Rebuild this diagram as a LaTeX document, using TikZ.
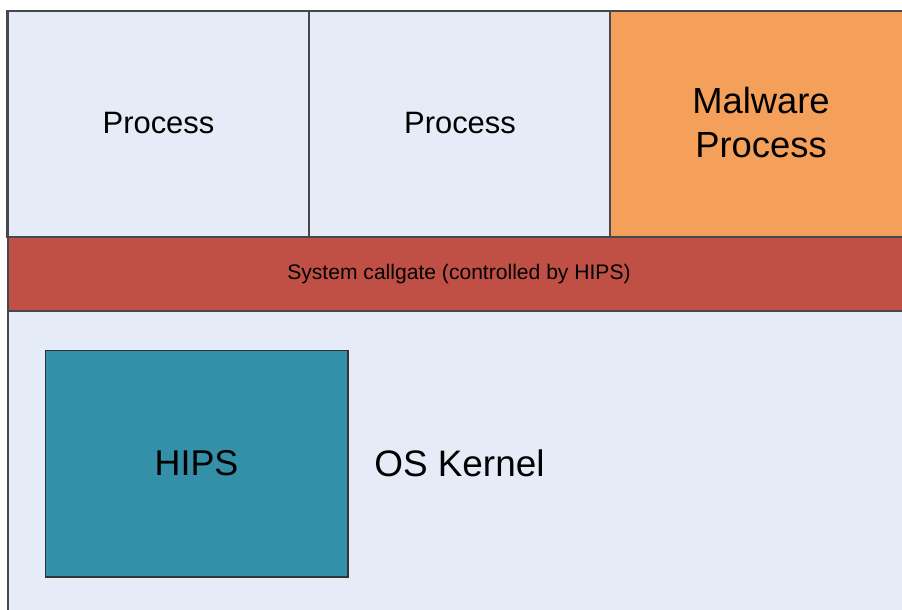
\documentclass[tikz,border=0pt]{standalone}
\usepackage{fontspec}
\setmainfont{Liberation Sans}
\usepackage{xcolor}
\usepackage{tikz}
\usetikzlibrary{positioning,calc}
\definecolor{layerfill}{RGB}{230,236,247}
\definecolor{malorange}{RGB}{244,160,90}
\definecolor{gatered}{RGB}{192,80,70}
\definecolor{hipsteal}{RGB}{52,143,168}
\definecolor{edgegray}{RGB}{70,72,78}

\begin{document}
\begin{tikzpicture}[
  x=0.02cm, y=-0.02cm,
  layer/.style={draw=edgegray, line width=1.2pt, rectangle, inner sep=0pt, outer sep=0pt, align=center},
  proc/.style={layer, fill=layerfill, minimum width=6.04cm, minimum height=4.52cm,
               font=\fontsize{17.6}{21}\selectfont},
  lbl/.style={inner sep=0pt, align=center}
]
\useasboundingbox (0,0) rectangle (902,609);
\clip (0,0) rectangle (902,609);

\node[layer, fill=layerfill, minimum width=18.04cm, minimum height=6.18cm] (kernel) at (459,465.5) {};
\node[layer, fill=gatered, minimum width=18.04cm, minimum height=1.48cm,
      font=\fontsize{12}{14}\selectfont] (gate) at (459,274) {\raisebox{1pt}{System callgate (controlled by HIPS)}};

\node[proc] (proca) at (158.5,124) {\raisebox{1pt}{Process}};
\node[proc] (procb) at (460,124) {\raisebox{1pt}{Process}};
\node[proc, fill=malorange, font=\fontsize{20.7}{25}\selectfont] (malware) at (761,124) {\raisebox{2pt}{Malware}\\\raisebox{2pt}{Process}};

\node[layer, fill=hipsteal, line width=0.6pt, draw=black!80, minimum width=6.06cm, minimum height=4.54cm,
      font=\fontsize{20.4}{24}\selectfont] (hips) at (196.5,463.5) {HIPS};
\node[lbl, font=\fontsize{21}{25}\selectfont, right=0.52cm of hips.east] (kerneltext) {OS Kernel};
\end{tikzpicture}
\end{document}
